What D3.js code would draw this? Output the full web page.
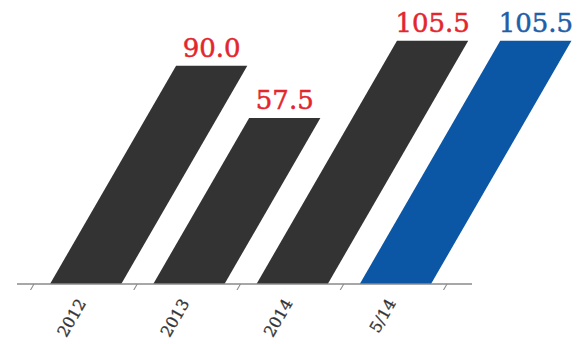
<!DOCTYPE html>
<html>
<head>
<meta charset="utf-8">
<script src="https://cdn.jsdelivr.net/npm/d3@7"></script>
<style>
  html, body { margin: 0; padding: 0; background: #fff; }
  svg { display: block; }
</style>
</head>
<body>
<div id="chart"></div>
<script>
const categories = ["2012", "2013", "2014", "5/14"];
const values = [90.0, 57.5, 105.5, 105.5];
const valueLabels = ["90.0", "57.5", "105.5", "105.5"];

const W = 577, H = 344;
const baseline = 284;
const skewDeg = 30;
const k = Math.tan(skewDeg * Math.PI / 180);
const font = "'DejaVu Serif', serif";

const svg = d3.select("#chart").append("svg").attr("width", W).attr("height", H);

const x = d3.scaleBand().domain(categories).range([34, 447])
  .paddingInner(0.31).paddingOuter(0.155);
const y = d3.scaleLinear().domain([-45.7, 105.5]).range([baseline, 40.7]);

const isHighlight = (i) => i === categories.length - 1;

// skewed group (bars + ticks)
const g = svg.append("g").attr("transform", `translate(0,${baseline}) skewX(${-skewDeg})`);

g.selectAll("rect.bar").data(categories).join("rect")
  .attr("class", "bar")
  .attr("x", d => x(d))
  .attr("y", (d, i) => y(values[i]) - baseline)
  .attr("width", x.bandwidth())
  .attr("height", (d, i) => baseline - y(values[i]))
  .attr("fill", (d, i) => isHighlight(i) ? "#0b56a5" : "#333333");

// axis line
svg.append("line")
  .attr("x1", 17).attr("x2", 472)
  .attr("y1", baseline).attr("y2", baseline)
  .attr("stroke", "#8a8a8a").attr("stroke-width", 1.5);

// ticks at band boundaries
const half = x.step() * x.paddingInner() / 2;
const tickXs = categories.map(c => x(c) - half)
  .concat([x(categories[categories.length - 1]) + x.bandwidth() + half]);
g.selectAll("line.tick").data(tickXs).join("line")
  .attr("class", "tick")
  .attr("x1", d => d).attr("x2", d => d)
  .attr("y1", 0).attr("y2", 6)
  .attr("stroke", "#8a8a8a").attr("stroke-width", 1.2);

// value labels
svg.selectAll("text.val").data(categories).join("text")
  .attr("class", "val")
  .attr("x", (d, i) => x(d) + x.bandwidth() / 2 + k * (baseline - y(values[i])))
  .attr("y", (d, i) => y(values[i]) - 9)
  .attr("text-anchor", "middle")
  .attr("font-family", font)
  .attr("font-size", 26)
  .attr("fill", (d, i) => isHighlight(i) ? "#1f5ea8" : "#e3262d")
  .attr("stroke", (d, i) => isHighlight(i) ? "#1f5ea8" : "#e3262d")
  .attr("stroke-width", 0.5)
  .text((d, i) => valueLabels[i]);

// category labels
svg.selectAll("text.cat").data(categories).join("text")
  .attr("class", "cat")
  .attr("transform", d => `translate(${x(d) + x.bandwidth() / 2 + 1},${baseline + 19}) rotate(-60)`)
  .attr("text-anchor", "end")
  .attr("font-family", font)
  .attr("font-size", 16)
  .attr("fill", "#333")
  .attr("stroke", "#333")
  .attr("stroke-width", 0.3)
  .text(d => d);
</script>
</body>
</html>
